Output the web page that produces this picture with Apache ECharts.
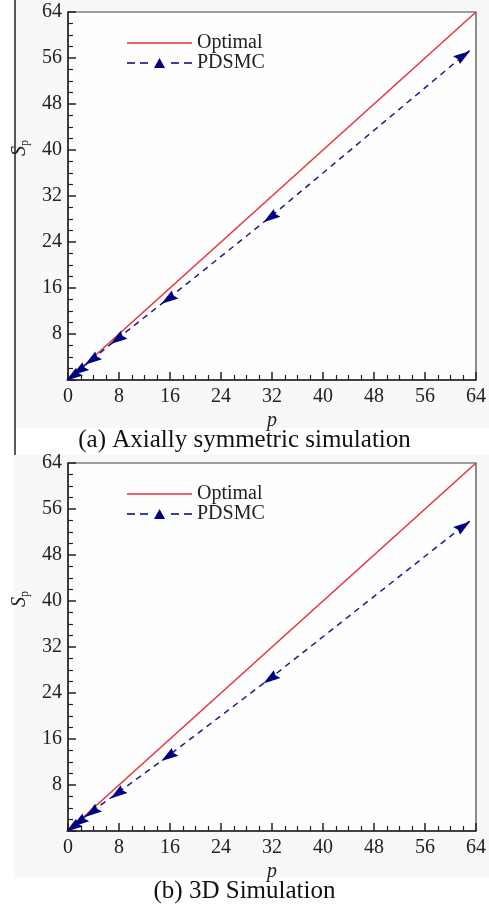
<!DOCTYPE html>
<html>
<head>
<meta charset="utf-8">
<script src="https://cdn.jsdelivr.net/npm/echarts@6/dist/echarts.min.js"></script>
<style>
  html, body { margin: 0; padding: 0; background: #fff; }
  #chart { width: 489px; height: 911px; }
</style>
</head>
<body>
<div id="chart"></div>
<script>
// processor counts and speed-ups
var optimalP = [0, 64];
var optimalS = [0, 64];
var procs = [1, 2, 4, 8, 16, 32, 63];
var speedupAxi = [1, 1.95, 3.8, 7.4, 14.4, 28.6, 57.3];
var speedup3D = [1, 1.9, 3.6, 6.8, 13.3, 26.8, 53.9];
var axisTicks = [0, 8, 16, 24, 32, 40, 48, 56, 64];
var captions = ['(a) Axially symmetric simulation', '(b) 3D Simulation'];

var serif = '"Liberation Serif", "DejaVu Serif", serif';
var red = '#e5323a';
var navy = '#1b1b8a';

// arrow heads along the curve (back toward origin, last one forward), legend icons
var dartBack = 'path://M0,14.75 L16.82,8.7 L11.87,5.57 L10.08,0 Z';
var dartFwd = 'path://M16.82,0 L0,6.05 L4.95,9.18 L6.74,14.75 Z';
var legendDashTri = 'path://M0,5.3 H8 V6.7 H0 Z M13,5.3 H21 V6.7 H13 Z M27,11 L32.5,1 L38,11 Z M44,5.3 H52 V6.7 H44 Z M57,5.3 H65 V6.7 H57 Z';
var legendSolid = 'path://M0,0 H65 V1.5 H0 Z';

function pairs(xs, ys) {
    var out = [];
    for (var i = 0; i < xs.length; i++) out.push([xs[i], ys[i]]);
    return out;
}

function markedPairs(xs, ys) {
    var out = [];
    for (var i = 0; i < xs.length; i++) {
        var last = i === xs.length - 1;
        out.push({
            value: [xs[i], ys[i]],
            symbol: last ? dartFwd : dartBack,
            symbolOffset: last ? [-8, 7] : [0, 0]
        });
    }
    return out;
}

function xAxisFor(idx) {
    return {
        gridIndex: idx,
        type: 'value',
        min: axisTicks[0],
        max: axisTicks[axisTicks.length - 1],
        interval: 8,
        name: 'p',
        nameLocation: 'middle',
        nameGap: 31,
        nameTextStyle: { fontFamily: serif, fontStyle: 'italic', fontSize: 20, color: '#222' },
        axisLine: { show: true, onZero: false, lineStyle: { color: '#222', width: 1.5 } },
        axisTick: { show: true, inside: true, length: 8, lineStyle: { color: '#222', width: 1.5 } },
        minorTick: { show: true, splitNumber: 4, length: 5, lineStyle: { color: '#222', width: 1.2 } },
        splitLine: { show: false },
        axisLabel: { fontFamily: serif, fontSize: 20, color: '#222', margin: 7 }
    };
}

function yAxisFor(idx) {
    return {
        gridIndex: idx,
        type: 'value',
        min: axisTicks[0],
        max: axisTicks[axisTicks.length - 1],
        interval: 8,
        name: '{s|S}{sub|p}',
        nameLocation: 'middle',
        nameGap: 25,
        nameRotate: 90,
        nameTextStyle: {
            padding: [0, 0, 0, 96],
            rich: {
                s: { fontFamily: serif, fontStyle: 'italic', fontSize: 20, color: '#222' },
                sub: { fontFamily: serif, fontSize: 12, color: '#222', verticalAlign: 'bottom', padding: [10, 0, 0, 0] }
            }
        },
        axisLine: { show: true, onZero: false, lineStyle: { color: '#222', width: 1.5 } },
        axisTick: { show: true, inside: true, length: 8, lineStyle: { color: '#222', width: 1.5 } },
        minorTick: { show: true, splitNumber: 4, length: 5, lineStyle: { color: '#222', width: 1.2 } },
        splitLine: { show: false },
        axisLabel: {
            fontFamily: serif, fontSize: 20, color: '#222', margin: 6,
            formatter: function (v) { return v === 0 ? '' : v; }
        }
    };
}

function seriesFor(idx, values) {
    return [{
        name: 'Optimal',
        type: 'line',
        xAxisIndex: idx,
        yAxisIndex: idx,
        data: pairs(optimalP, optimalS),
        showSymbol: false,
        symbol: 'none',
        lineStyle: { color: red, width: 1.5 },
        itemStyle: { color: red },
        silent: true
    }, {
        name: 'PDSMC',
        type: 'line',
        xAxisIndex: idx,
        yAxisIndex: idx,
        data: markedPairs(procs, values),
        symbol: dartBack,
        symbolSize: [17, 15],
        symbolKeepAspect: true,
        lineStyle: { color: navy, width: 1.5, type: [6, 5] },
        itemStyle: { color: '#000080' }
    }];
}

function legendFor(top) {
    return {
        data: [
            { name: 'Optimal', icon: legendSolid },
            { name: 'PDSMC', icon: legendDashTri }
        ],
        orient: 'vertical',
        left: 122,
        top: top,
        itemGap: 0,
        itemWidth: 65,
        itemHeight: 12,
        textStyle: { fontFamily: serif, fontSize: 20, color: '#222' }
    };
}

var chart = echarts.init(document.getElementById('chart'));
chart.setOption({
    animation: false,
    backgroundColor: '#fff',
    grid: [
        { left: 68, top: 12, width: 414, height: 368, show: true, borderColor: '#444', borderWidth: 1.2, backgroundColor: '#fefefe' },
        { left: 68, top: 463, width: 414, height: 368, show: true, borderColor: '#444', borderWidth: 1.2, backgroundColor: '#fefefe' }
    ],
    legend: [legendFor(28), legendFor(479)],
    xAxis: [xAxisFor(0), xAxisFor(1)],
    yAxis: [yAxisFor(0), yAxisFor(1)],
    series: seriesFor(0, speedupAxi).concat(seriesFor(1, speedup3D)),
    graphic: [
        { type: 'rect', z: -10, shape: { x: 15, y: 0, width: 474, height: 428 }, style: { fill: '#f8f8f8' } },
        { type: 'rect', z: -10, shape: { x: 14, y: 455, width: 475, height: 423 }, style: { fill: '#f8f8f8' } },
        { type: 'line', shape: { x1: 15, y1: 0, x2: 15, y2: 455 }, style: { stroke: '#222', lineWidth: 1.5 } },
        { type: 'text', left: 'center', top: 428, style: { text: captions[0], font: '25px ' + serif, fill: '#111' } },
        { type: 'text', left: 'center', top: 879, style: { text: captions[1], font: '25px ' + serif, fill: '#111' } }
    ]
});
</script>
</body>
</html>
